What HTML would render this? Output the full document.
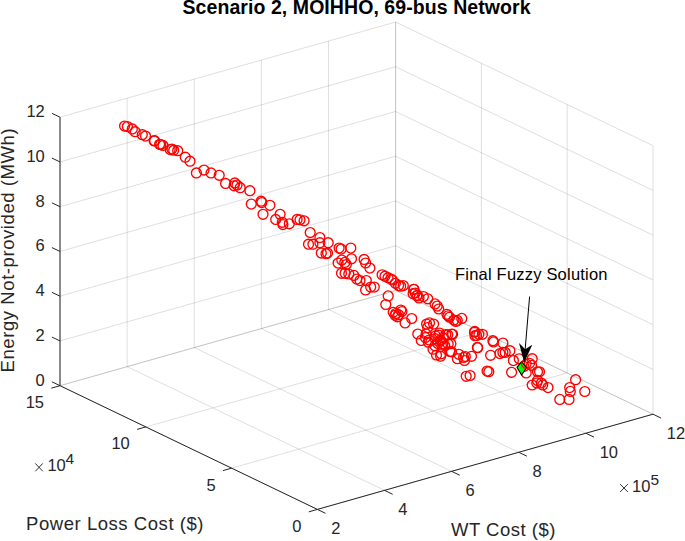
<!DOCTYPE html>
<html><head><meta charset="utf-8"><style>html,body{margin:0;padding:0;background:#fff;overflow:hidden}svg{display:block}</style></head>
<body><svg width="685" height="541" viewBox="0 0 685 541"><g stroke="#262626" stroke-opacity="0.15" stroke-width="1"><line x1="317.40" y1="509.40" x2="60.00" y2="385.70"/><line x1="384.52" y1="490.36" x2="127.12" y2="366.66"/><line x1="451.64" y1="471.32" x2="194.24" y2="347.62"/><line x1="518.76" y1="452.28" x2="261.36" y2="328.58"/><line x1="585.88" y1="433.24" x2="328.48" y2="309.54"/><line x1="653.00" y1="414.20" x2="395.60" y2="290.50"/><line x1="317.40" y1="509.40" x2="653.00" y2="414.20"/><line x1="231.60" y1="468.17" x2="567.20" y2="372.97"/><line x1="145.80" y1="426.93" x2="481.40" y2="331.73"/><line x1="60.00" y1="385.70" x2="395.60" y2="290.50"/><line x1="60.00" y1="385.70" x2="60.00" y2="117.20"/><line x1="127.12" y1="366.66" x2="127.12" y2="98.16"/><line x1="194.24" y1="347.62" x2="194.24" y2="79.12"/><line x1="261.36" y1="328.58" x2="261.36" y2="60.08"/><line x1="328.48" y1="309.54" x2="328.48" y2="41.04"/><line x1="395.60" y1="290.50" x2="395.60" y2="22.00"/><line x1="60.00" y1="385.70" x2="395.60" y2="290.50"/><line x1="60.00" y1="340.95" x2="395.60" y2="245.75"/><line x1="60.00" y1="296.20" x2="395.60" y2="201.00"/><line x1="60.00" y1="251.45" x2="395.60" y2="156.25"/><line x1="60.00" y1="206.70" x2="395.60" y2="111.50"/><line x1="60.00" y1="161.95" x2="395.60" y2="66.75"/><line x1="60.00" y1="117.20" x2="395.60" y2="22.00"/><line x1="653.00" y1="414.20" x2="653.00" y2="145.70"/><line x1="567.20" y1="372.97" x2="567.20" y2="104.47"/><line x1="481.40" y1="331.73" x2="481.40" y2="63.23"/><line x1="395.60" y1="290.50" x2="395.60" y2="22.00"/><line x1="653.00" y1="414.20" x2="395.60" y2="290.50"/><line x1="653.00" y1="369.45" x2="395.60" y2="245.75"/><line x1="653.00" y1="324.70" x2="395.60" y2="201.00"/><line x1="653.00" y1="279.95" x2="395.60" y2="156.25"/><line x1="653.00" y1="235.20" x2="395.60" y2="111.50"/><line x1="653.00" y1="190.45" x2="395.60" y2="66.75"/><line x1="653.00" y1="145.70" x2="395.60" y2="22.00"/></g><line x1="317.40" y1="509.40" x2="653.00" y2="414.20" stroke="#262626" stroke-width="1"/><line x1="317.40" y1="509.40" x2="60.00" y2="385.70" stroke="#262626" stroke-width="1"/><line x1="60.00" y1="385.70" x2="60.00" y2="117.20" stroke="#262626" stroke-width="1"/><line x1="317.40" y1="509.40" x2="325.51" y2="513.30" stroke="#262626" stroke-width="1"/><line x1="384.52" y1="490.36" x2="392.63" y2="494.26" stroke="#262626" stroke-width="1"/><line x1="451.64" y1="471.32" x2="459.75" y2="475.22" stroke="#262626" stroke-width="1"/><line x1="518.76" y1="452.28" x2="526.87" y2="456.18" stroke="#262626" stroke-width="1"/><line x1="585.88" y1="433.24" x2="593.99" y2="437.14" stroke="#262626" stroke-width="1"/><line x1="653.00" y1="414.20" x2="661.11" y2="418.10" stroke="#262626" stroke-width="1"/><line x1="317.40" y1="509.40" x2="308.74" y2="511.86" stroke="#262626" stroke-width="1"/><line x1="231.60" y1="468.17" x2="222.94" y2="470.62" stroke="#262626" stroke-width="1"/><line x1="145.80" y1="426.93" x2="137.14" y2="429.39" stroke="#262626" stroke-width="1"/><line x1="60.00" y1="385.70" x2="51.34" y2="388.16" stroke="#262626" stroke-width="1"/><line x1="60.00" y1="385.70" x2="51.89" y2="381.80" stroke="#262626" stroke-width="1"/><line x1="60.00" y1="340.95" x2="51.89" y2="337.05" stroke="#262626" stroke-width="1"/><line x1="60.00" y1="296.20" x2="51.89" y2="292.30" stroke="#262626" stroke-width="1"/><line x1="60.00" y1="251.45" x2="51.89" y2="247.55" stroke="#262626" stroke-width="1"/><line x1="60.00" y1="206.70" x2="51.89" y2="202.80" stroke="#262626" stroke-width="1"/><line x1="60.00" y1="161.95" x2="51.89" y2="158.05" stroke="#262626" stroke-width="1"/><line x1="60.00" y1="117.20" x2="51.89" y2="113.30" stroke="#262626" stroke-width="1"/><text x="331.2" y="534.2" font-family="Liberation Sans, sans-serif" font-size="16.5" fill="#262626">2</text><text x="398.3" y="515.2" font-family="Liberation Sans, sans-serif" font-size="16.5" fill="#262626">4</text><text x="465.4" y="496.1" font-family="Liberation Sans, sans-serif" font-size="16.5" fill="#262626">6</text><text x="532.6" y="477.1" font-family="Liberation Sans, sans-serif" font-size="16.5" fill="#262626">8</text><text x="599.7" y="458.0" font-family="Liberation Sans, sans-serif" font-size="16.5" fill="#262626">10</text><text x="666.8" y="439.0" font-family="Liberation Sans, sans-serif" font-size="16.5" fill="#262626">12</text><text x="301.4" y="531.8" font-family="Liberation Sans, sans-serif" font-size="16.5" fill="#262626" text-anchor="end">0</text><text x="215.6" y="490.6" font-family="Liberation Sans, sans-serif" font-size="16.5" fill="#262626" text-anchor="end">5</text><text x="129.8" y="449.3" font-family="Liberation Sans, sans-serif" font-size="16.5" fill="#262626" text-anchor="end">10</text><text x="44.0" y="408.1" font-family="Liberation Sans, sans-serif" font-size="16.5" fill="#262626" text-anchor="end">15</text><text x="44.8" y="385.5" font-family="Liberation Sans, sans-serif" font-size="16.5" fill="#262626" text-anchor="end">0</text><text x="44.8" y="340.8" font-family="Liberation Sans, sans-serif" font-size="16.5" fill="#262626" text-anchor="end">2</text><text x="44.8" y="296.0" font-family="Liberation Sans, sans-serif" font-size="16.5" fill="#262626" text-anchor="end">4</text><text x="44.8" y="251.2" font-family="Liberation Sans, sans-serif" font-size="16.5" fill="#262626" text-anchor="end">6</text><text x="44.8" y="206.5" font-family="Liberation Sans, sans-serif" font-size="16.5" fill="#262626" text-anchor="end">8</text><text x="44.8" y="161.8" font-family="Liberation Sans, sans-serif" font-size="16.5" fill="#262626" text-anchor="end">10</text><text x="44.8" y="117.0" font-family="Liberation Sans, sans-serif" font-size="16.5" fill="#262626" text-anchor="end">12</text><path d="M35.3,463.4 L42.8,471.3 M35.3,471.3 L42.8,463.4" stroke="#262626" stroke-width="0.95" fill="none"/><text x="47.4" y="471.0" font-family="Liberation Sans, sans-serif" font-size="16.5" fill="#262626">10</text><text x="65.6" y="463.7" font-family="Liberation Sans, sans-serif" font-size="15.5" fill="#262626">4</text><path d="M620.2,484.2 L627.8,491.9 M620.2,491.9 L627.8,484.2" stroke="#262626" stroke-width="0.95" fill="none"/><text x="632.0" y="491.9" font-family="Liberation Sans, sans-serif" font-size="16.5" fill="#262626">10</text><text x="650.6" y="484.5" font-family="Liberation Sans, sans-serif" font-size="15.5" fill="#262626">5</text><text x="26" y="529.8" font-family="Liberation Sans, sans-serif" font-size="18.5" fill="#262626" textLength="177.5" lengthAdjust="spacing">Power Loss Cost ($)</text><text x="451" y="536.2" font-family="Liberation Sans, sans-serif" font-size="18.5" fill="#262626" textLength="104.5" lengthAdjust="spacing">WT Cost ($)</text><text transform="translate(14.3,372.4) rotate(-90)" x="0" y="0" font-family="Liberation Sans, sans-serif" font-size="18.5" fill="#262626" textLength="244" lengthAdjust="spacing">Energy Not-provided (MWh)</text><text x="182.5" y="13.7" font-family="Liberation Sans, sans-serif" font-size="19.5" font-weight="bold" fill="#000" textLength="348" lengthAdjust="spacing">Scenario 2, MOIHHO, 69-bus Network</text><g fill="none" stroke="#ff0000" stroke-width="1.35"><circle cx="124.6" cy="126.0" r="4.95"/><circle cx="127.4" cy="126.5" r="4.95"/><circle cx="132.3" cy="128.9" r="4.95"/><circle cx="135.2" cy="131.7" r="4.95"/><circle cx="142.3" cy="134.7" r="4.95"/><circle cx="145.5" cy="136.1" r="4.95"/><circle cx="154.6" cy="140.7" r="4.95"/><circle cx="160.7" cy="144.5" r="4.95"/><circle cx="163.0" cy="145.4" r="4.95"/><circle cx="154.2" cy="140.9" r="4.95"/><circle cx="159.6" cy="144.3" r="4.95"/><circle cx="170.2" cy="149.6" r="4.95"/><circle cx="171.9" cy="149.0" r="4.95"/><circle cx="173.7" cy="150.2" r="4.95"/><circle cx="177.7" cy="150.7" r="4.95"/><circle cx="185.3" cy="157.2" r="4.95"/><circle cx="190.0" cy="161.2" r="4.95"/><circle cx="196.4" cy="172.9" r="4.95"/><circle cx="204.0" cy="170.0" r="4.95"/><circle cx="211.0" cy="172.9" r="4.95"/><circle cx="219.2" cy="175.3" r="4.95"/><circle cx="225.6" cy="183.4" r="4.95"/><circle cx="234.1" cy="185.8" r="4.95"/><circle cx="234.8" cy="182.9" r="4.95"/><circle cx="237.0" cy="185.1" r="4.95"/><circle cx="240.2" cy="187.7" r="4.95"/><circle cx="249.9" cy="190.7" r="4.95"/><circle cx="251.3" cy="204.1" r="4.95"/><circle cx="261.1" cy="201.2" r="4.95"/><circle cx="261.8" cy="202.6" r="4.95"/><circle cx="269.9" cy="205.3" r="4.95"/><circle cx="263.0" cy="214.3" r="4.95"/><circle cx="275.7" cy="219.4" r="4.95"/><circle cx="280.1" cy="214.3" r="4.95"/><circle cx="282.3" cy="222.3" r="4.95"/><circle cx="282.9" cy="224.5" r="4.95"/><circle cx="297.1" cy="219.4" r="4.95"/><circle cx="300.0" cy="219.8" r="4.95"/><circle cx="304.1" cy="220.8" r="4.95"/><circle cx="310.2" cy="232.5" r="4.95"/><circle cx="319.9" cy="237.6" r="4.95"/><circle cx="308.5" cy="244.2" r="4.95"/><circle cx="312.9" cy="244.2" r="4.95"/><circle cx="319.9" cy="242.7" r="4.95"/><circle cx="328.2" cy="242.7" r="4.95"/><circle cx="321.3" cy="253.0" r="4.95"/><circle cx="326.0" cy="253.7" r="4.95"/><circle cx="327.5" cy="253.0" r="4.95"/><circle cx="339.1" cy="248.1" r="4.95"/><circle cx="350.8" cy="248.1" r="4.95"/><circle cx="351.5" cy="258.8" r="4.95"/><circle cx="341.5" cy="273.3" r="4.95"/><circle cx="345.1" cy="273.3" r="4.95"/><circle cx="348.8" cy="274.0" r="4.95"/><circle cx="353.9" cy="275.4" r="4.95"/><circle cx="356.8" cy="279.1" r="4.95"/><circle cx="360.0" cy="280.6" r="4.95"/><circle cx="364.1" cy="259.4" r="4.95"/><circle cx="365.6" cy="263.0" r="4.95"/><circle cx="369.9" cy="268.1" r="4.95"/><circle cx="366.3" cy="280.6" r="4.95"/><circle cx="370.7" cy="287.1" r="4.95"/><circle cx="365.6" cy="290.0" r="4.95"/><circle cx="374.3" cy="287.1" r="4.95"/><circle cx="382.1" cy="274.8" r="4.95"/><circle cx="385.0" cy="276.2" r="4.95"/><circle cx="388.0" cy="277.7" r="4.95"/><circle cx="392.3" cy="279.9" r="4.95"/><circle cx="388.2" cy="295.9" r="4.95"/><circle cx="413.7" cy="289.3" r="4.95"/><circle cx="415.2" cy="293.0" r="4.95"/><circle cx="417.4" cy="295.2" r="4.95"/><circle cx="391.0" cy="279.1" r="4.95"/><circle cx="405.1" cy="322.9" r="4.95"/><circle cx="411.7" cy="318.5" r="4.95"/><circle cx="413.9" cy="289.3" r="4.95"/><circle cx="413.1" cy="293.7" r="4.95"/><circle cx="416.8" cy="295.8" r="4.95"/><circle cx="419.0" cy="298.0" r="4.95"/><circle cx="423.4" cy="296.6" r="4.95"/><circle cx="427.7" cy="298.8" r="4.95"/><circle cx="435.0" cy="303.9" r="4.95"/><circle cx="437.2" cy="306.1" r="4.95"/><circle cx="438.7" cy="309.0" r="4.95"/><circle cx="426.6" cy="324.1" r="4.95"/><circle cx="429.5" cy="322.9" r="4.95"/><circle cx="433.6" cy="324.1" r="4.95"/><circle cx="427.7" cy="327.6" r="4.95"/><circle cx="417.8" cy="334.0" r="4.95"/><circle cx="421.3" cy="340.4" r="4.95"/><circle cx="425.4" cy="337.5" r="4.95"/><circle cx="428.3" cy="342.2" r="4.95"/><circle cx="433.0" cy="349.2" r="4.95"/><circle cx="435.3" cy="338.7" r="4.95"/><circle cx="438.8" cy="335.2" r="4.95"/><circle cx="440.6" cy="340.4" r="4.95"/><circle cx="442.9" cy="343.9" r="4.95"/><circle cx="445.8" cy="334.6" r="4.95"/><circle cx="451.7" cy="334.0" r="4.95"/><circle cx="448.2" cy="343.9" r="4.95"/><circle cx="449.9" cy="351.5" r="4.95"/><circle cx="440.6" cy="356.2" r="4.95"/><circle cx="441.2" cy="353.8" r="4.95"/><circle cx="436.5" cy="355.0" r="4.95"/><circle cx="474.5" cy="332.2" r="4.95"/><circle cx="475.0" cy="335.7" r="4.95"/><circle cx="477.4" cy="347.4" r="4.95"/><circle cx="452.6" cy="334.3" r="4.95"/><circle cx="450.9" cy="343.7" r="4.95"/><circle cx="451.5" cy="351.8" r="4.95"/><circle cx="474.8" cy="331.4" r="4.95"/><circle cx="476.6" cy="335.5" r="4.95"/><circle cx="478.9" cy="334.3" r="4.95"/><circle cx="482.4" cy="334.3" r="4.95"/><circle cx="477.7" cy="347.7" r="4.95"/><circle cx="492.9" cy="340.7" r="4.95"/><circle cx="493.5" cy="341.9" r="4.95"/><circle cx="502.9" cy="343.1" r="4.95"/><circle cx="490.6" cy="355.3" r="4.95"/><circle cx="499.9" cy="353.6" r="4.95"/><circle cx="502.9" cy="352.4" r="4.95"/><circle cx="505.2" cy="352.4" r="4.95"/><circle cx="509.9" cy="350.7" r="4.95"/><circle cx="513.4" cy="360.6" r="4.95"/><circle cx="519.2" cy="358.8" r="4.95"/><circle cx="511.6" cy="372.3" r="4.95"/><circle cx="487.1" cy="371.1" r="4.95"/><circle cx="488.8" cy="371.7" r="4.95"/><circle cx="523.9" cy="366.4" r="4.95"/><circle cx="526.2" cy="372.9" r="4.95"/><circle cx="532.2" cy="358.7" r="4.95"/><circle cx="529.6" cy="363.3" r="4.95"/><circle cx="531.6" cy="365.3" r="4.95"/><circle cx="537.5" cy="371.8" r="4.95"/><circle cx="539.5" cy="371.8" r="4.95"/><circle cx="532.2" cy="385.0" r="4.95"/><circle cx="537.5" cy="380.4" r="4.95"/><circle cx="536.8" cy="383.0" r="4.95"/><circle cx="541.4" cy="383.0" r="4.95"/><circle cx="542.7" cy="385.0" r="4.95"/><circle cx="548.0" cy="387.6" r="4.95"/><circle cx="575.6" cy="379.7" r="4.95"/><circle cx="569.7" cy="387.6" r="4.95"/><circle cx="570.3" cy="391.4" r="4.95"/><circle cx="584.8" cy="391.5" r="4.95"/><circle cx="559.8" cy="399.4" r="4.95"/><circle cx="569.0" cy="399.4" r="4.95"/><circle cx="447.7" cy="334.7" r="4.95"/><circle cx="439.6" cy="333.0" r="4.95"/><circle cx="435.5" cy="335.9" r="4.95"/><circle cx="440.2" cy="340.0" r="4.95"/><circle cx="442.5" cy="343.5" r="4.95"/><circle cx="437.8" cy="343.5" r="4.95"/><circle cx="434.9" cy="345.8" r="4.95"/><circle cx="443.7" cy="338.2" r="4.95"/><circle cx="444.8" cy="345.8" r="4.95"/><circle cx="429.1" cy="340.0" r="4.95"/><circle cx="426.1" cy="334.1" r="4.95"/><circle cx="393.2" cy="312.3" r="4.95"/><circle cx="395.8" cy="313.6" r="4.95"/><circle cx="398.6" cy="314.7" r="4.95"/><circle cx="400.8" cy="310.1" r="4.95"/><circle cx="401.9" cy="311.6" r="4.95"/><circle cx="397.5" cy="316.8" r="4.95"/><circle cx="395.1" cy="315.3" r="4.95"/><circle cx="385.8" cy="304.5" r="4.95"/><circle cx="289.3" cy="223.8" r="4.95"/><circle cx="446.9" cy="314.3" r="4.95"/><circle cx="448.0" cy="315.8" r="4.95"/><circle cx="449.5" cy="317.3" r="4.95"/><circle cx="453.9" cy="320.0" r="4.95"/><circle cx="455.8" cy="321.4" r="4.95"/><circle cx="457.3" cy="320.4" r="4.95"/><circle cx="461.8" cy="318.4" r="4.95"/><circle cx="395.4" cy="283.3" r="4.95"/><circle cx="398.6" cy="285.6" r="4.95"/><circle cx="400.7" cy="286.2" r="4.95"/><circle cx="403.3" cy="285.6" r="4.95"/><circle cx="341.1" cy="249.1" r="4.95"/><circle cx="338.1" cy="263.1" r="4.95"/><circle cx="341.8" cy="260.1" r="4.95"/><circle cx="344.8" cy="262.4" r="4.95"/><circle cx="346.3" cy="264.6" r="4.95"/><circle cx="466.2" cy="376.3" r="4.95"/><circle cx="470.1" cy="375.5" r="4.95"/><circle cx="458.8" cy="354.3" r="4.95"/><circle cx="457.4" cy="358.7" r="4.95"/><circle cx="463.6" cy="357.4" r="4.95"/><circle cx="464.5" cy="360.5" r="4.95"/><circle cx="465.3" cy="356.5" r="4.95"/><circle cx="471.5" cy="356.3" r="4.95"/></g><path d="M521.6,361.6 L526.5,367.8 L521.6,375 L517,367.4 Z" fill="#00ff00" stroke="#000" stroke-width="1.1"/><circle cx="526.3" cy="363.8" r="4.75" fill="none" stroke="#ff0000" stroke-width="1.3"/><text x="455" y="280" font-family="Liberation Sans, sans-serif" font-size="16.5" fill="#000" textLength="152.5" lengthAdjust="spacing">Final Fuzzy Solution</text><line x1="529.6" y1="296.5" x2="525.1" y2="350" stroke="#000" stroke-width="1"/><path d="M524.2,362.4 L519.0,342.9 L525.2,349.3 L532.3,344.7 Z" fill="#000"/></svg></body></html>
